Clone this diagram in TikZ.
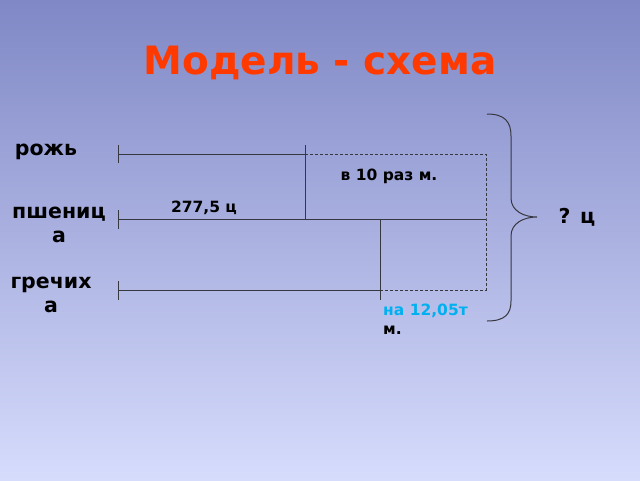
\documentclass[tikz,border=0pt]{standalone}
\usepackage{fontspec}
\setmainfont{DejaVu Sans}
\definecolor{bgtop}{RGB}{128,136,198}
\definecolor{bgbot}{RGB}{214,220,252}
\definecolor{titlered}{RGB}{255,58,0}
\definecolor{linegray}{RGB}{55,55,65}
\definecolor{cyanblue}{RGB}{0,176,240}
\tikzset{
  seg/.style={draw=linegray, line width=1pt},
  dashseg/.style={draw=linegray, line width=0.75pt, dash pattern=on 3pt off 2pt},
  lbl/.style={font=\bfseries\fontsize{20.5}{24}\selectfont, text=black, inner sep=0pt, align=center},
  small/.style={font=\bfseries\fontsize{15.5}{19}\selectfont, text=black, inner sep=0pt},
}
\begin{document}
\begin{tikzpicture}[x=1pt,y=-1pt]
\shade[top color=bgtop, bottom color=bgbot] (0,0) rectangle (640,480);
\useasboundingbox (0,0) rectangle (640,480);
\node[font=\bfseries\fontsize{39}{46}\selectfont, text=titlered, inner sep=0pt] (title) at (320,63) {Модель - схема};
% labels
\node[lbl] (rye) at (46,152) {рожь};
\node[lbl] (wheat) at (59,225) {пшениц\\а};
\node[lbl] (buck) at (51,295) {гречих\\а};
% coordinates
\coordinate (r0) at (118,154);
\coordinate (r1) at (305,154);
\coordinate (r2) at (486,154);
\coordinate (w0) at (118,219);
\coordinate (w1) at (305,219);
\coordinate (w2) at (380,219);
\coordinate (w3) at (486,219);
\coordinate (b0) at (118,290);
\coordinate (b1) at (380,290);
\coordinate (b2) at (486,290);
\coordinate (rt) at (118,145);
\coordinate (rb) at (118,163);
\coordinate (wt) at (118,210);
\coordinate (wb) at (118,229);
\coordinate (bt) at (118,281);
\coordinate (bb) at (118,300);
\coordinate (r1t) at (305,145);
\coordinate (b1b) at (380,300);
% solid segments
\draw[seg] (rt) -- (rb);
\draw[seg] (r0) -- (r1);
\draw[seg] (r1t) -- (w1);
\draw[seg] (wt) -- (wb);
\draw[seg] (w0) -- (w3);
\draw[seg] (w2) -- (b1b);
\draw[seg] (bt) -- (bb);
\draw[seg] (b0) -- (b1);
% dashed
\draw[dashseg] (r1) -- (r2) -- (w3) -- (b2) -- (b1);
% texts on segments
\node[small] (times) at (389,176) {в 10 раз м.};
\node[small] (val) at (204,208) {277,5 ц};
\node[small, anchor=west, align=left] (diff) at (383,319) {\textcolor{cyanblue}{на 12,05т}\\м.};
% brace
\coordinate (bra) at (487,114);
\coordinate (tip) at (537,217);
\coordinate (brb) at (487,321);
\draw[seg] (bra) .. controls (505,114) and (511,122) .. (511,136) -- (511,198)
  .. controls (511,211) and (524,217) .. (tip)
  .. controls (524,217) and (511,223) .. (511,236) -- (511,301)
  .. controls (511,314) and (505,321) .. (brb);
\node[lbl] (q) at (577,217) {? ц};
\end{tikzpicture}
\end{document}
